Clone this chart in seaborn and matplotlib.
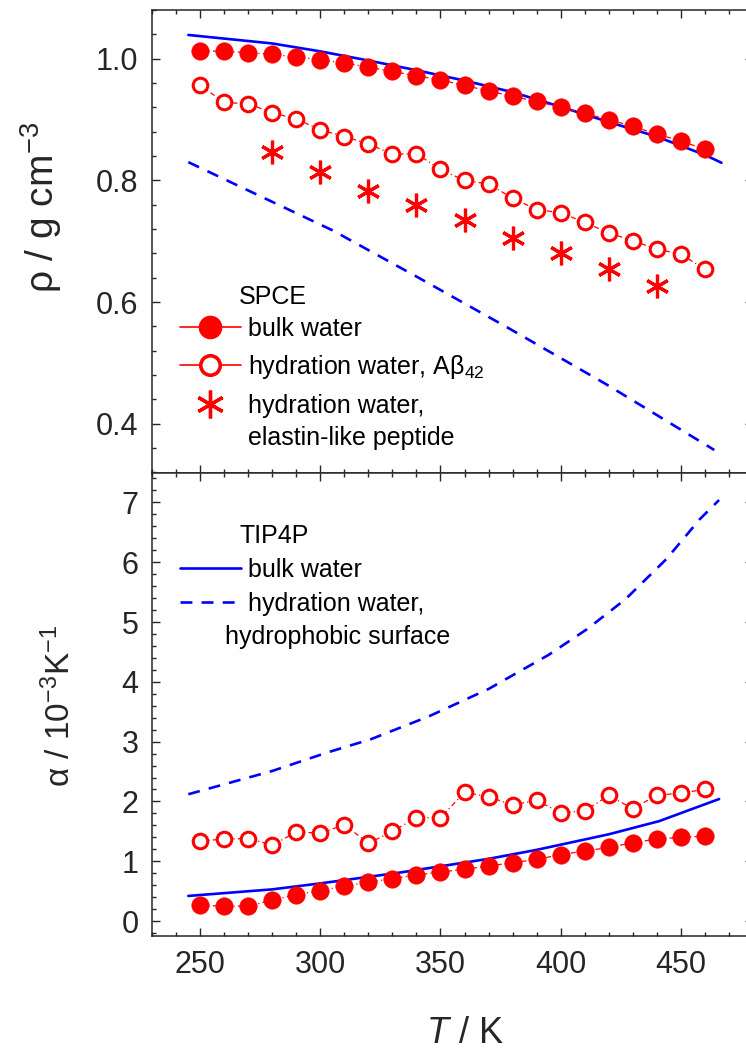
import matplotlib
matplotlib.use("Agg")
import matplotlib.pyplot as plt
from matplotlib.lines import Line2D
from matplotlib.ticker import MultipleLocator, FormatStrFormatter
import pandas as pd
import seaborn as sns

# ---- data -------------------------------------------------------------
T_sim = [250, 260, 270, 280, 290, 300, 310, 320, 330, 340, 350,
         360, 370, 380, 390, 400, 410, 420, 430, 440, 450, 460]

# density, SPC/E
rho_bulk_spce = [1.013, 1.012, 1.010, 1.007, 1.003, 0.998, 0.993, 0.986,
                 0.979, 0.972, 0.965, 0.956, 0.947, 0.938, 0.930, 0.920,
                 0.910, 0.900, 0.889, 0.876, 0.865, 0.851]
rho_hyd_abeta = [0.956, 0.928, 0.926, 0.911, 0.901, 0.883, 0.872, 0.860,
                 0.843, 0.844, 0.818, 0.800, 0.794, 0.771, 0.752, 0.747,
                 0.731, 0.714, 0.701, 0.687, 0.679, 0.654]
T_elp = [280, 300, 320, 340, 360, 380, 400, 420, 440]
rho_hyd_elp = [0.847, 0.813, 0.783, 0.760, 0.735, 0.705, 0.680, 0.655, 0.627]

# density, TIP4P
T_rho_bulk_tip4p = [245, 260, 280, 300, 320, 340, 360, 380, 400, 420, 440, 460, 467]
rho_bulk_tip4p = [1.039, 1.033, 1.025, 1.012, 0.997, 0.981, 0.964, 0.945,
                  0.921, 0.896, 0.872, 0.842, 0.829]
T_rho_hyd_tip4p = [245, 275, 305, 340, 378, 419, 464]
rho_hyd_tip4p = [0.830, 0.774, 0.718, 0.642, 0.558, 0.465, 0.357]

# thermal expansion coefficient, SPC/E (10^-3 K^-1)
alpha_bulk_spce = [0.26, 0.25, 0.25, 0.35, 0.44, 0.51, 0.585, 0.65, 0.71,
                   0.77, 0.82, 0.865, 0.92, 0.975, 1.03, 1.11, 1.17, 1.23,
                   1.31, 1.37, 1.40, 1.42]
alpha_hyd_abeta = [1.34, 1.37, 1.38, 1.27, 1.49, 1.47, 1.61, 1.30, 1.50,
                   1.73, 1.73, 2.15, 2.08, 1.94, 2.02, 1.81, 1.84, 2.10,
                   1.88, 2.10, 2.14, 2.20]

# thermal expansion coefficient, TIP4P
T_alpha_bulk_tip4p = [245, 280, 300, 333, 370, 390, 420, 441, 466]
alpha_bulk_tip4p = [0.42, 0.53, 0.63, 0.81, 1.04, 1.19, 1.45, 1.67, 2.04]
T_alpha_hyd_tip4p = [245, 280, 303, 321, 345, 370, 395, 411, 427, 444, 458, 466]
alpha_hyd_tip4p = [2.12, 2.51, 2.82, 3.04, 3.42, 3.88, 4.45, 4.88, 5.38,
                   6.05, 6.72, 7.04]

# ---- style ------------------------------------------------------------
sns.set_theme(style="ticks")
INK = "#262626"
RED = "#ff0000"
BLUE = "#0000ff"
plt.rcParams.update({
    "font.family": ["Liberation Sans", "DejaVu Sans"],
    "mathtext.fontset": "custom",
    "mathtext.rm": "Liberation Sans",
    "mathtext.it": "Liberation Sans:italic",
    "mathtext.bf": "Liberation Sans:bold",
    "axes.edgecolor": INK,
    "axes.linewidth": 1.1,
    "text.color": "black",
})

fig = plt.figure(figsize=(7.46, 10.52), dpi=100)
W, H = 746.0, 1052.0
left, width = 152.3 / W, 600.4 / W
ax_top = fig.add_axes([left, (H - 472.5) / H, width, 462.5 / H])
ax_bot = fig.add_axes([left, (H - 936.0) / H, width, 463.5 / H])

dot_style = (0, (4, 2.5, 1, 2.5))
filled_kw = dict(color=RED, marker="o", markersize=12.5, markerfacecolor=RED,
                 markeredgecolor=RED, markeredgewidth=0.5,
                 linewidth=0.9, linestyle=dot_style)
open_kw = dict(color=RED, marker="o", markersize=10.5, markerfacecolor="white",
               markeredgecolor=RED, markeredgewidth=2.2,
               linewidth=0.9, linestyle=dot_style)

# ---- density panel ----------------------------------------------------
sns.lineplot(x=T_rho_bulk_tip4p, y=rho_bulk_tip4p, ax=ax_top, color=BLUE,
             linewidth=1.9)
sns.lineplot(x=T_rho_hyd_tip4p, y=rho_hyd_tip4p, ax=ax_top, color=BLUE,
             linewidth=1.9, linestyle=(0, (4.5, 3.5)))
sns.lineplot(x=T_sim, y=rho_bulk_spce, ax=ax_top, **filled_kw)
sns.lineplot(x=T_sim, y=rho_hyd_abeta, ax=ax_top, **open_kw)
sns.lineplot(x=T_elp, y=rho_hyd_elp, ax=ax_top, color=RED, linestyle="",
             marker=(6, 2, 0), markersize=17, markeredgecolor=RED,
             markeredgewidth=2.3)

# ---- expansion coefficient panel -------------------------------------
sns.lineplot(x=T_alpha_bulk_tip4p, y=alpha_bulk_tip4p, ax=ax_bot, color=BLUE,
             linewidth=1.9)
sns.lineplot(x=T_alpha_hyd_tip4p, y=alpha_hyd_tip4p, ax=ax_bot, color=BLUE,
             linewidth=1.9, linestyle=(0, (4.5, 3.5)))
sns.lineplot(x=T_sim, y=alpha_bulk_spce, ax=ax_bot, **filled_kw)
sns.lineplot(x=T_sim, y=alpha_hyd_abeta, ax=ax_bot, **open_kw)

# ---- axes -------------------------------------------------------------
for ax in (ax_top, ax_bot):
    ax.set_xlim(230, 480)
    ax.xaxis.set_major_locator(MultipleLocator(50))
    ax.xaxis.set_minor_locator(MultipleLocator(10))
    ax.tick_params(which="both", direction="in", top=True, right=True,
                   bottom=True, left=True, color=INK, width=1.0,
                   labelsize=22, labelcolor=INK, pad=10)
    ax.tick_params(which="major", length=6)
    ax.tick_params(which="minor", length=3)
    for s in ax.spines.values():
        s.set_visible(True)
        s.set_color(INK)

ax_top.set_ylim(0.32, 1.08)
ax_top.yaxis.set_major_locator(MultipleLocator(0.2))
ax_top.yaxis.set_minor_locator(MultipleLocator(0.04))
ax_top.yaxis.set_major_formatter(FormatStrFormatter("%.1f"))
ax_top.tick_params(axis="x", labelbottom=False)
ax_top.set_xlabel("")

ax_bot.set_ylim(-0.25, 7.5)
ax_bot.yaxis.set_major_locator(MultipleLocator(1))
ax_bot.yaxis.set_minor_locator(MultipleLocator(0.2))
ax_bot.yaxis.set_major_formatter(FormatStrFormatter("%d"))

ax_top.set_ylabel("ρ / g cm$^{-3}$", fontsize=28, color=INK)
ax_top.yaxis.set_label_coords(-0.147, 0.572)
ax_bot.set_ylabel("α / 10$^{-3}$K$^{-1}$", fontsize=24, color=INK)
ax_bot.yaxis.set_label_coords(-0.125, 0.496)
ax_bot.set_xlabel("$T$ / K", fontsize=26, color=INK, va="top")
ax_bot.xaxis.set_label_coords(0.52, -0.172)

# ---- legends ----------------------------------------------------------
leg_fs = 18
solid_red = dict(color=RED, linewidth=1.2, linestyle="-")
h_bulk = Line2D([], [], marker="o", markersize=16, markerfacecolor=RED,
                markeredgecolor=RED, **solid_red)
h_abeta = Line2D([], [], marker="o", markersize=14, markerfacecolor="white",
                 markeredgecolor=RED, markeredgewidth=2.6, **solid_red)
h_elp = Line2D([], [], linestyle="", marker=(6, 2, 0), markersize=20,
               markeredgecolor=RED, markeredgewidth=2.4, color=RED)
leg1 = ax_top.legend(
    handles=[h_bulk, h_abeta, h_elp],
    labels=["bulk water", "hydration water, A$\\mathrm{\\beta}_{42}$",
            "hydration water,"],
    loc="upper left", bbox_to_anchor=(0.0455, 0.337), frameon=False,
    fontsize=leg_fs, borderpad=0, borderaxespad=0, handlelength=2.45,
    handletextpad=0.3, labelspacing=0.5)
ax_top.text(0.1444, 0.380, "SPCE", transform=ax_top.transAxes,
            fontsize=leg_fs, va="center", ha="left")
ax_top.text(0.1596, 0.0739, "elastin-like peptide", transform=ax_top.transAxes,
            fontsize=leg_fs, va="center", ha="left")

h_tb = Line2D([], [], color=BLUE, linewidth=1.9)
h_th = Line2D([], [], color=BLUE, linewidth=1.9, linestyle=(0, (4.5, 3.5)))
leg2 = ax_bot.legend(
    handles=[h_tb, h_th], labels=["bulk water", "hydration water,"],
    loc="upper left", bbox_to_anchor=(0.0455, 0.8155), frameon=False,
    fontsize=leg_fs, borderpad=0, borderaxespad=0, handlelength=2.45,
    handletextpad=0.3, labelspacing=0.4)
ax_bot.text(0.146, 0.864, "TIP4P", transform=ax_bot.transAxes,
            fontsize=leg_fs, va="center", ha="left")
ax_bot.text(0.1211, 0.6457, "hydrophobic surface", transform=ax_bot.transAxes,
            fontsize=leg_fs, va="center", ha="left")

fig.savefig("out.png", dpi=100)
